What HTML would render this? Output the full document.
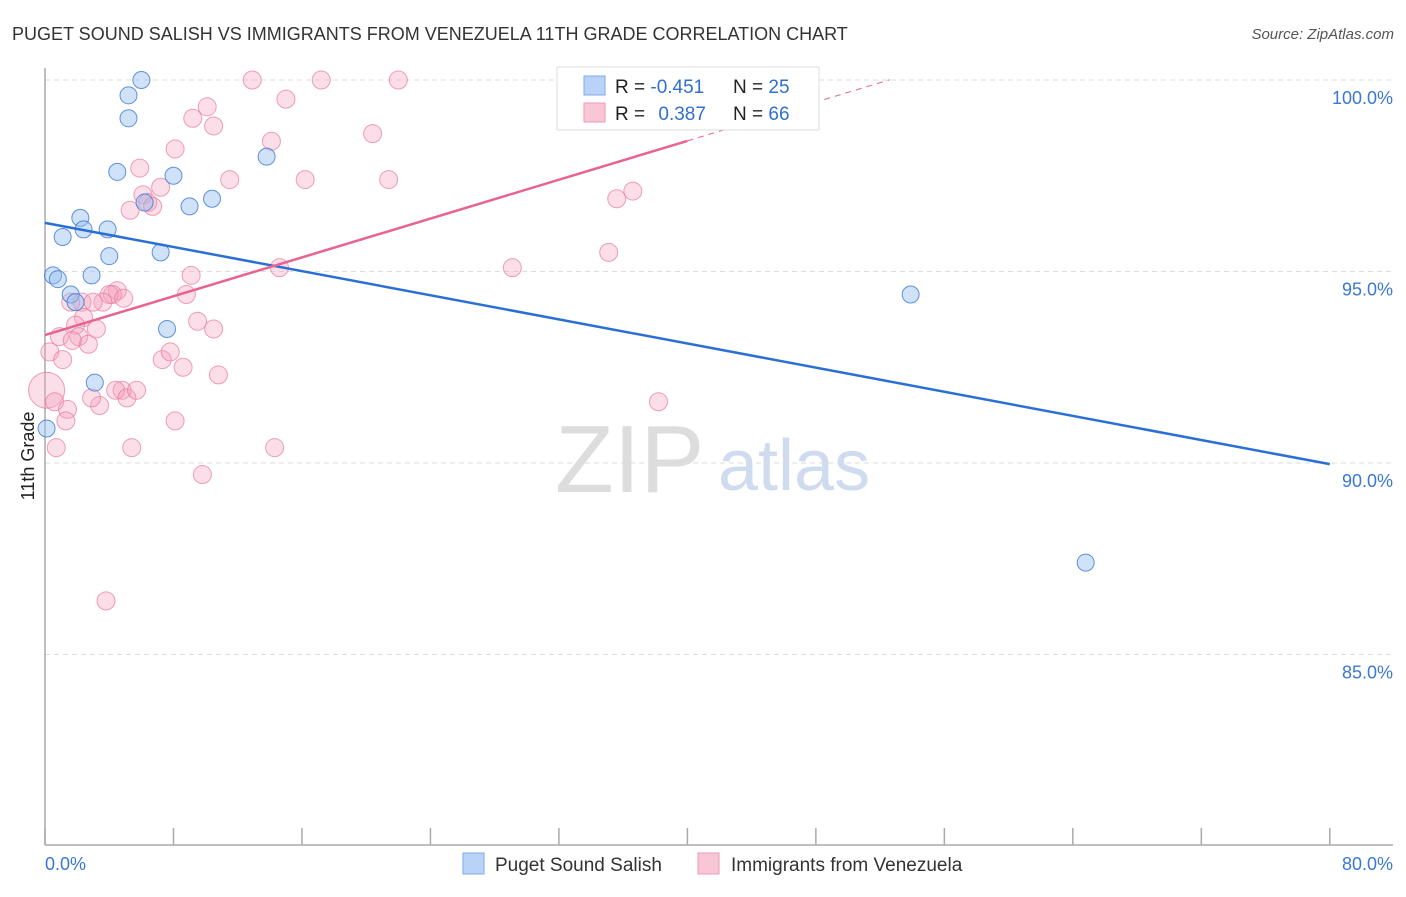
<!DOCTYPE html>
<html><head><meta charset="utf-8"><style>
body{margin:0;background:#fff;font-family:"Liberation Sans",sans-serif}
svg text{font-family:"Liberation Sans",sans-serif}
</style></head><body>
<svg id="chart" width="1406" height="892" viewBox="0 0 1406 892">
<text x="12" y="40" font-size="18" fill="#333">PUGET SOUND SALISH VS IMMIGRANTS FROM VENEZUELA 11TH GRADE CORRELATION CHART</text>
<text x="1394" y="39" font-size="15" fill="#555" text-anchor="end" font-style="italic">Source: ZipAtlas.com</text>
<text x="555" y="492" font-size="96" fill="#ddd" font-family="Liberation Serif">ZIP</text>
<text x="718" y="490" font-size="72" fill="#cfdcf0">atlas</text>
<g id="grid"></g>
<g id="axes"></g>
<g id="points"></g>
<g id="lines"></g>
<text transform="translate(34,456) rotate(-90)" font-size="18" fill="#222" text-anchor="middle">11th Grade</text>
<g>
<rect x="557" y="67" width="262" height="63" fill="#fff" stroke="#ddd"/>
<rect x="584" y="76" width="21" height="19" fill="#b8d3f7" stroke="#7faae8"/>
<rect x="584" y="103" width="21" height="19" fill="#f9c6d5" stroke="#ee9ab4"/>
<text x="615" y="93" font-size="19" fill="#222">R = <tspan fill="#3070d0">-0.451</tspan></text>
<text x="733" y="93" font-size="19" fill="#222">N = <tspan fill="#3070d0">25</tspan></text>
<text x="615" y="120" font-size="19" fill="#222">R = <tspan fill="#3070d0" dx="8">0.387</tspan></text>
<text x="733" y="120" font-size="19" fill="#222">N = <tspan fill="#3070d0">66</tspan></text>
</g>
<g>
<rect x="463" y="853" width="21" height="21" fill="#b8d3f7" stroke="#7faae8"/>
<text x="495" y="871" font-size="19" fill="#333">Puget Sound Salish</text>
<rect x="698" y="853" width="21" height="21" fill="#f9c6d5" stroke="#ee9ab4"/>
<text x="731" y="871" font-size="19" fill="#333">Immigrants from Venezuela</text>
</g>
</svg>
<script>
const yTicks=[100,95,90,85];
const xTickLabels=["0.0%","80.0%"];
const blueX=[6.0,5.2,5.2,4.5,13.8,8.0,10.4,9.0,6.2,2.2,1.1,2.4,3.9,7.2,4.0,0.5,0.8,2.9,1.6,1.9,7.6,3.1,0.1,53.9,64.8];
const blueY=[100.0,99.6,99.0,97.6,98.0,97.5,96.9,96.7,96.8,96.4,95.9,96.1,96.1,95.5,95.4,94.9,94.8,94.9,94.4,94.2,93.5,92.1,90.9,94.4,87.4];
const pinkX=[12.9,17.2,22.0,10.1,15.0,9.2,10.5,20.4,14.1,8.1,5.9,11.5,16.2,21.4,7.2,6.1,6.4,6.7,5.3,36.6,35.6,9.1,14.6,29.1,35.1,8.8,4.5,4.2,4.0,4.9,3.6,2.3,3.0,1.6,9.5,10.5,2.4,1.9,3.2,0.9,2.1,2.7,1.7,0.3,1.1,7.3,7.8,8.6,10.8,0.1,0.6,1.4,3.4,4.8,4.4,5.1,5.7,2.9,1.3,8.1,5.4,0.7,14.3,9.8,38.2,3.8];
const pinkY=[100.0,100.0,100.0,99.3,99.5,99.0,98.8,98.6,98.4,98.2,97.7,97.4,97.4,97.4,97.2,97.0,96.8,96.7,96.6,97.1,96.9,94.9,95.1,95.1,95.5,94.4,94.5,94.4,94.4,94.3,94.2,94.2,94.2,94.2,93.7,93.5,93.8,93.6,93.5,93.3,93.3,93.1,93.2,92.9,92.7,92.7,92.9,92.5,92.3,91.9,91.6,91.4,91.5,91.9,91.9,91.7,91.9,91.7,91.1,91.1,90.4,90.4,90.4,89.7,91.6,86.4];
const blueTrend=[96.27,89.97];
const pinkTrend=[93.34,98.41];
const pinkSolidEnd=40.0, pinkDashEnd=52.6;
const X=v=>45+v*16.06, Y=v=>80+(100-v)*38.3;
const NS="http://www.w3.org/2000/svg";
function mk(t,a,p){const e=document.createElementNS(NS,t);for(const k in a)e.setAttribute(k,a[k]);document.getElementById(p).appendChild(e);return e;}
yTicks.forEach(t=>{
 const l=mk('line',{x1:45,x2:1393,y1:Y(t),y2:Y(t),stroke:'#ddd','stroke-dasharray':'5,4'},'grid');
 
 
 const tx=mk('text',{x:1393,y:Y(t)+24,'font-size':18,fill:'#3a78d4','text-anchor':'end'},'grid');
 tx.textContent=t.toFixed(1)+'%';
 
 
});
const ya=mk('line',{x1:45,x2:45,y1:68,y2:845,stroke:'#aaa','stroke-width':1.5},'axes');


const xa=mk('line',{x1:45,x2:1393,y1:845,y2:845,stroke:'#aaa','stroke-width':1.5},'axes');


for(let i=0;i<=10;i++){
 const t=mk('line',{x1:X(i*8),x2:X(i*8),y1:828,y2:845,stroke:'#aaa','stroke-width':1.5},'axes');
 
 
}
[[0,'start',45],[80,'end',1393]].forEach((d,i)=>{
 const t=mk('text',{x:d[2],y:870,'font-size':18,fill:'#3a78d4','text-anchor':d[1]},'axes');
 t.textContent=xTickLabels[i];
 
 
});
pinkX.forEach((v,i)=>{
 const r=(i==49)?18:9;
 const c=mk('circle',{cx:X(v),cy:Y(pinkY[i]),r:r,fill:'rgba(244,160,188,0.35)',stroke:'rgba(232,120,155,0.7)'},'points');
 
 
});
blueX.forEach((v,i)=>{
 const c=mk('circle',{cx:X(v),cy:Y(blueY[i]),r:8.5,fill:'rgba(150,190,240,0.45)',stroke:'rgba(60,120,210,0.8)'},'points');
 
 
});
const bl=mk('line',{x1:X(0),y1:Y(blueTrend[0]),x2:X(80),y2:Y(blueTrend[1]),stroke:'#2a6fd6','stroke-width':2.5},'lines');


const ps=(pinkTrend[1]-pinkTrend[0])/pinkSolidEnd;
const pl=mk('line',{x1:X(0),y1:Y(pinkTrend[0]),x2:X(pinkSolidEnd),y2:Y(pinkTrend[1]),stroke:'#e8648e','stroke-width':2.5},'lines');


const pd=mk('line',{x1:X(pinkSolidEnd),y1:Y(pinkTrend[1]),x2:X(pinkDashEnd),y2:Y(pinkTrend[0]+ps*pinkDashEnd),stroke:'#e8648e','stroke-width':1,'stroke-dasharray':'6,5'},'lines');


</script>
</body></html>
